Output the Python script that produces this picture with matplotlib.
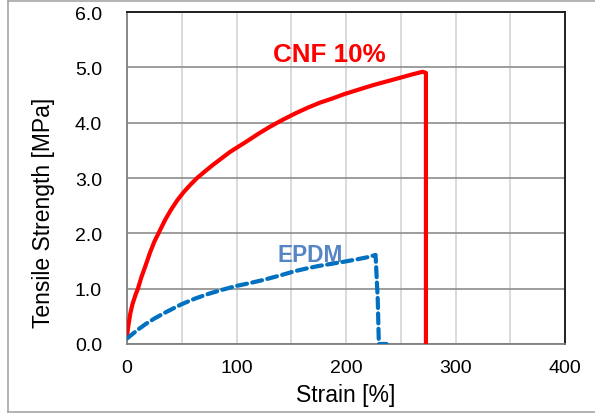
import matplotlib
matplotlib.use("Agg")
import matplotlib.pyplot as plt
from matplotlib.lines import Line2D

plt.rcParams['font.family'] = ['Liberation Sans', 'DejaVu Sans']

# CNF 10% curve (strain %, stress MPa)
cnf_strain = [0, 1, 3, 5, 8, 10, 13, 17, 21, 25, 30, 35, 40, 46, 52, 58, 64,
              70, 78, 86, 94, 102, 110, 120, 130, 142, 154, 165, 176, 188,
              199, 212, 225, 238, 251, 260, 266, 270, 273, 273]
cnf_stress = [0.15, 0.3, 0.55, 0.72, 0.9, 1.0, 1.2, 1.42, 1.65, 1.85, 2.05,
              2.25, 2.42, 2.6, 2.75, 2.88, 3.0, 3.1, 3.23, 3.35, 3.47, 3.57,
              3.67, 3.8, 3.92, 4.05, 4.17, 4.27, 4.36, 4.44, 4.52, 4.6, 4.68,
              4.75, 4.82, 4.87, 4.9, 4.92, 4.9, 0.0]

# EPDM curve
epdm_strain = [0, 5, 10, 17, 25, 35, 50, 62, 75, 87, 100, 112, 125, 140, 154,
               165, 175, 187, 199, 210, 220, 227, 229, 230, 237]
epdm_stress = [0.1, 0.18, 0.26, 0.36, 0.46, 0.57, 0.72, 0.82, 0.91, 0.98,
               1.05, 1.1, 1.16, 1.24, 1.32, 1.37, 1.41, 1.45, 1.49, 1.53,
               1.57, 1.61, 0.8, 0.0, 0.0]

xticks = [0, 100, 200, 300, 400]
yticks = [0, 1, 2, 3, 4, 5, 6]

fig = plt.figure(figsize=(5.95, 4.14), dpi=100)
ax = fig.add_axes([127/595, 69/414, 438/595, 332/414])

for x in range(0, 401, 50):
    ax.axvline(x, color='#d4d4d4', lw=1.2, zorder=0)
for y in yticks:
    ax.axhline(y, color='#8c8c8c', lw=1.2, zorder=0)

ax.plot(cnf_strain, cnf_stress, color='#ff0000', lw=3.0, zorder=3,
        solid_joinstyle='round')
ax.plot(epdm_strain, epdm_stress, color='#0070c0', lw=3.0, zorder=3,
        dashes=(2.4, 1.3), dash_capstyle='round')

ax.set_xlim(0, 400)
ax.set_ylim(0, 6)
ax.set_xticks(xticks)
ax.set_xticklabels([str(t) for t in xticks])
ax.set_yticks(yticks)
ax.set_yticklabels(['{:.1f}'.format(t) for t in yticks])
ax.tick_params(length=0, labelsize=14, colors='#000000')
ax.tick_params(axis='y', pad=18)
ax.tick_params(axis='x', pad=11)

for s in ['left', 'bottom']:
    ax.spines[s].set_color('#808080')
    ax.spines[s].set_linewidth(1.3)
for s in ['top', 'right']:
    ax.spines[s].set_color('#202020')
    ax.spines[s].set_linewidth(1.4)

fig.text(346/595, 1 - 396/414, 'Strain [%]', fontsize=16.5,
         ha='center', va='center')
fig.text(44/595, 1 - 213/414, 'Tensile Strength [MPa]', fontsize=16.5,
         ha='center', va='center', rotation=90)

ax.text(185, 5.24, 'CNF 10%', color='#ff0000',
        fontsize=18.7, fontweight='bold', ha='center', va='center', zorder=5)
ax.text(167, 1.62, 'EPDM', color='#5585c5',
        fontsize=16.3, fontweight='bold', ha='center', va='center', zorder=5)

# outer chart frame
fig.add_artist(Line2D([8/595, 1], [1 - 1.5/414, 1 - 1.5/414], color='#a6a6a6', lw=1.2))
fig.add_artist(Line2D([8/595, 8/595], [1.5/414, 1 - 1.5/414], color='#a6a6a6', lw=1.2))
fig.add_artist(Line2D([8/595, 1], [1.5/414, 1.5/414], color='#a6a6a6', lw=1.2))

fig.savefig('out.png', dpi=100)
